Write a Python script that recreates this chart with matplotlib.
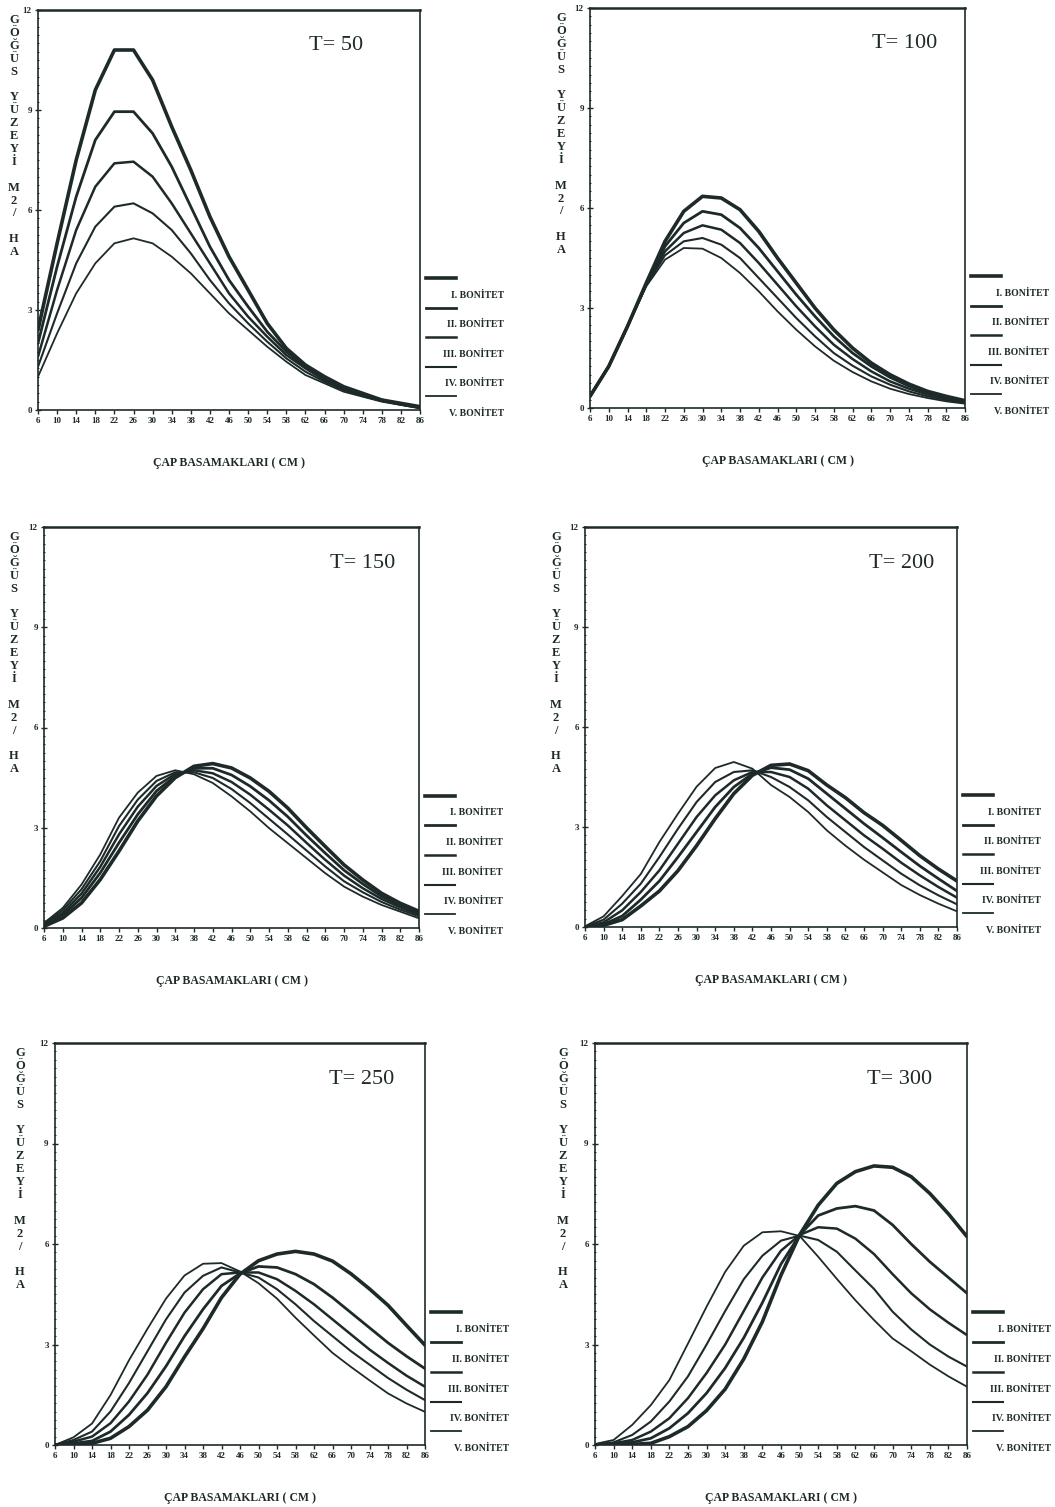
import matplotlib.pyplot as plt
from matplotlib.ticker import MultipleLocator

plt.rcParams['font.family'] = ['Liberation Serif', 'DejaVu Serif']

# diameter classes (cm)
dbh = [6, 10, 14, 18, 22, 26, 30, 34, 38, 42, 46, 50, 54, 58, 62, 66, 70, 74, 78, 82, 86]
classes = ['I. BONİTET', 'II. BONİTET', 'III. BONİTET', 'IV. BONİTET', 'V. BONİTET']

# basal area (m2/ha) per diameter class
t50_I = [2.4, 5.0, 7.5, 9.6, 10.8, 10.8, 9.9, 8.5, 7.2, 5.8, 4.6, 3.6, 2.6, 1.85, 1.35, 1.0, 0.7, 0.5, 0.3, 0.2, 0.1]
t50_II = [2.0, 4.3, 6.4, 8.1, 8.95, 8.95, 8.3, 7.3, 6.1, 4.9, 3.9, 3.1, 2.35, 1.75, 1.3, 0.95, 0.65, 0.45, 0.3, 0.18, 0.08]
t50_III = [1.6, 3.6, 5.4, 6.7, 7.4, 7.45, 7.0, 6.2, 5.3, 4.4, 3.5, 2.8, 2.2, 1.65, 1.25, 0.9, 0.62, 0.43, 0.28, 0.17, 0.07]
t50_IV = [1.3, 2.9, 4.4, 5.5, 6.1, 6.2, 5.9, 5.4, 4.7, 3.9, 3.2, 2.6, 2.05, 1.55, 1.15, 0.85, 0.6, 0.42, 0.27, 0.16, 0.06]
t50_V = [1.0, 2.3, 3.5, 4.4, 5.0, 5.15, 5.0, 4.6, 4.1, 3.5, 2.9, 2.4, 1.9, 1.45, 1.05, 0.8, 0.55, 0.4, 0.25, 0.15, 0.05]

t100_I = [0.35, 1.25, 2.45, 3.75, 5.0, 5.9, 6.35, 6.3, 5.95, 5.3, 4.5, 3.75, 3.0, 2.35, 1.8, 1.35, 1.0, 0.72, 0.5, 0.35, 0.22]
t100_II = [0.35, 1.25, 2.45, 3.72, 4.85, 5.55, 5.9, 5.8, 5.4, 4.8, 4.1, 3.4, 2.75, 2.15, 1.65, 1.25, 0.92, 0.66, 0.46, 0.32, 0.2]
t100_III = [0.35, 1.25, 2.45, 3.7, 4.7, 5.25, 5.48, 5.35, 4.95, 4.35, 3.7, 3.05, 2.45, 1.9, 1.47, 1.1, 0.8, 0.58, 0.41, 0.28, 0.18]
t100_IV = [0.35, 1.25, 2.45, 3.68, 4.58, 5.0, 5.1, 4.9, 4.5, 3.9, 3.3, 2.7, 2.15, 1.65, 1.27, 0.95, 0.7, 0.5, 0.35, 0.24, 0.15]
t100_V = [0.35, 1.25, 2.45, 3.65, 4.45, 4.8, 4.78, 4.5, 4.05, 3.5, 2.9, 2.35, 1.85, 1.42, 1.08, 0.8, 0.58, 0.42, 0.3, 0.2, 0.13]

t150_I = [0.05, 0.3, 0.75, 1.45, 2.3, 3.2, 3.95, 4.5, 4.84, 4.92, 4.79, 4.49, 4.09, 3.59, 3.0, 2.44, 1.89, 1.44, 1.04, 0.74, 0.5]
t150_II = [0.08, 0.38, 0.9, 1.65, 2.55, 3.4, 4.1, 4.55, 4.78, 4.78, 4.58, 4.24, 3.82, 3.33, 2.77, 2.24, 1.73, 1.32, 0.95, 0.68, 0.45]
t150_III = [0.1, 0.45, 1.03, 1.83, 2.8, 3.63, 4.25, 4.61, 4.72, 4.63, 4.37, 3.99, 3.54, 3.07, 2.55, 2.04, 1.57, 1.19, 0.87, 0.62, 0.4]
t150_IV = [0.13, 0.53, 1.16, 2.0, 3.05, 3.84, 4.4, 4.66, 4.66, 4.49, 4.16, 3.74, 3.27, 2.8, 2.32, 1.84, 1.4, 1.07, 0.78, 0.55, 0.35]
t150_V = [0.15, 0.6, 1.3, 2.2, 3.3, 4.05, 4.55, 4.72, 4.6, 4.34, 3.94, 3.49, 2.99, 2.54, 2.09, 1.64, 1.24, 0.94, 0.69, 0.49, 0.29]

t200_I = [0.0, 0.05, 0.22, 0.63, 1.08, 1.69, 2.44, 3.25, 4.0, 4.55, 4.85, 4.89, 4.69, 4.26, 3.88, 3.43, 3.05, 2.6, 2.14, 1.74, 1.38]
t200_II = [0.0, 0.08, 0.33, 0.82, 1.38, 2.1, 2.85, 3.6, 4.2, 4.6, 4.78, 4.72, 4.45, 4.0, 3.55, 3.1, 2.68, 2.25, 1.83, 1.45, 1.08]
t200_III = [0.0, 0.14, 0.5, 1.05, 1.7, 2.5, 3.3, 3.95, 4.4, 4.65, 4.65, 4.5, 4.15, 3.65, 3.2, 2.75, 2.35, 1.93, 1.55, 1.2, 0.88]
t200_IV = [0.01, 0.22, 0.7, 1.3, 2.1, 2.95, 3.75, 4.35, 4.65, 4.7, 4.5, 4.2, 3.8, 3.3, 2.85, 2.4, 2.0, 1.6, 1.25, 0.95, 0.68]
t200_V = [0.02, 0.32, 0.93, 1.59, 2.55, 3.4, 4.21, 4.77, 4.95, 4.75, 4.26, 3.9, 3.45, 2.9, 2.44, 2.02, 1.64, 1.26, 0.96, 0.7, 0.47]

t250_I = [0.0, 0.02, 0.05, 0.2, 0.55, 1.04, 1.74, 2.63, 3.47, 4.4, 5.1, 5.5, 5.7, 5.78, 5.7, 5.49, 5.11, 4.66, 4.17, 3.57, 2.98]
t250_II = [0.0, 0.05, 0.12, 0.4, 0.9, 1.55, 2.35, 3.25, 4.05, 4.75, 5.12, 5.33, 5.3, 5.1, 4.8, 4.4, 3.95, 3.5, 3.05, 2.65, 2.28]
t250_III = [0.0, 0.1, 0.25, 0.65, 1.3, 2.1, 3.05, 3.95, 4.65, 5.1, 5.15, 5.15, 4.95, 4.6, 4.2, 3.75, 3.3, 2.85, 2.45, 2.07, 1.74]
t250_IV = [0.01, 0.15, 0.4, 1.0, 1.85, 2.8, 3.75, 4.55, 5.05, 5.3, 5.15, 5.0, 4.65, 4.2, 3.7, 3.25, 2.8, 2.4, 2.0, 1.65, 1.34]
t250_V = [0.0, 0.23, 0.64, 1.49, 2.53, 3.47, 4.37, 5.06, 5.41, 5.43, 5.18, 4.83, 4.37, 3.8, 3.27, 2.75, 2.33, 1.93, 1.54, 1.24, 0.99]

t300_I = [0.0, 0.01, 0.02, 0.05, 0.25, 0.55, 1.03, 1.67, 2.57, 3.68, 5.07, 6.27, 7.16, 7.81, 8.16, 8.33, 8.29, 8.01, 7.51, 6.9, 6.22]
t300_II = [0.0, 0.03, 0.08, 0.2, 0.5, 0.95, 1.55, 2.3, 3.2, 4.25, 5.4, 6.27, 6.85, 7.06, 7.13, 7.0, 6.57, 6.0, 5.47, 5.0, 4.53]
t300_III = [0.01, 0.05, 0.15, 0.4, 0.8, 1.4, 2.15, 3.0, 4.0, 5.0, 5.8, 6.27, 6.5, 6.46, 6.16, 5.7, 5.1, 4.53, 4.05, 3.65, 3.28]
t300_IV = [0.02, 0.08, 0.3, 0.7, 1.3, 2.05, 3.0, 4.0, 4.95, 5.65, 6.1, 6.25, 6.12, 5.77, 5.21, 4.66, 3.98, 3.45, 3.0, 2.64, 2.34]
t300_V = [0.03, 0.15, 0.6, 1.19, 1.94, 3.03, 4.13, 5.17, 5.95, 6.35, 6.38, 6.24, 5.62, 4.96, 4.32, 3.73, 3.18, 2.8, 2.4, 2.05, 1.74]

titles = ['T= 50', 'T= 100', 'T= 150', 'T= 200', 'T= 250', 'T= 300']
series = [
    [t50_I, t50_II, t50_III, t50_IV, t50_V],
    [t100_I, t100_II, t100_III, t100_IV, t100_V],
    [t150_I, t150_II, t150_III, t150_IV, t150_V],
    [t200_I, t200_II, t200_III, t200_IV, t200_V],
    [t250_I, t250_II, t250_III, t250_IV, t250_V],
    [t300_I, t300_II, t300_III, t300_IV, t300_V],
]

# axes boxes in pixels: left, top, right, bottom
W, H = 1055, 1507
boxes = [(38, 10, 420, 410), (590, 8, 965, 408),
         (44, 527, 419, 928), (585, 527, 957, 927),
         (55, 1043, 425, 1445), (595, 1043, 967, 1445)]
title_x = [0.78, 0.84, 0.85, 0.85, 0.83, 0.82]
ylab_off = [-24, -29, -30, -29, -35, -32]

ink = '#1e2a2a'
widths = [2.6, 2.0, 1.8, 1.5, 1.3]
ylabel = 'G\nÖ\nĞ\nÜ\nS\n\nY\nÜ\nZ\nE\nY\nİ\n\nM\n2\n/\n\nH\nA'

fig = plt.figure(figsize=(W / 100, H / 100), dpi=100)

for k in range(6):
    l, t, r, b = boxes[k]
    ax = fig.add_axes([l / W, 1 - b / H, (r - l) / W, (b - t) / H])
    # Plot curves
    for j in range(5):
        ax.plot(dbh, series[k][j], color=ink, lw=widths[j], solid_capstyle='round',
                solid_joinstyle='round')
    # Axes and ticks
    ax.set_xlim(6, 86)
    ax.set_ylim(0, 12)
    ax.set_xticks(dbh)
    ax.set_yticks([0, 3, 6, 9, 12])
    ax.yaxis.set_minor_locator(MultipleLocator(0.25))
    ax.tick_params(axis='x', length=3, width=1, pad=2, labelsize=6.5, colors=ink)
    ax.tick_params(axis='y', which='major', direction='inout', length=5, width=1,
                   pad=2, labelsize=6.5, colors=ink)
    ax.tick_params(axis='y', which='minor', direction='inout', length=2, width=0.7, colors=ink)
    for lab in ax.get_xticklabels() + ax.get_yticklabels():
        lab.set_fontweight('bold')
    for s in ax.spines.values():
        s.set_color(ink)
        s.set_linewidth(1.2)
    ax.spines['top'].set_linewidth(1.8)
    # Titles and labels
    ax.text(title_x[k], 0.91, titles[k], transform=ax.transAxes, ha='center', va='center',
            fontsize=16, color=ink)
    ax.annotate('ÇAP BASAMAKLARI ( CM )', xy=(0.5, 0), xycoords='axes fraction',
                xytext=(0, -53), textcoords='offset pixels', ha='center', va='center',
                fontsize=8.5, fontweight='bold', color=ink)
    ax.annotate(ylabel, xy=(0, 1), xycoords='axes fraction', xytext=(ylab_off[k], -4),
                textcoords='offset pixels', ha='center', va='top', multialignment='center',
                fontsize=9, fontweight='bold', color=ink, linespacing=1.1)
    # Legend beside the panel
    pw, ph = r - l, b - t
    for j in range(5):
        yl = 0.33 - j * 0.074
        ax.plot([1 + 6 / pw, 1 + 36 / pw], [yl, yl], transform=ax.transAxes, clip_on=False,
                color=ink, lw=widths[j])
        ax.text(1 + 84 / pw, yl - 0.043, classes[j], transform=ax.transAxes, ha='right',
                va='center', fontsize=7, fontweight='bold', color=ink)

fig.savefig('out.png', dpi=100)
